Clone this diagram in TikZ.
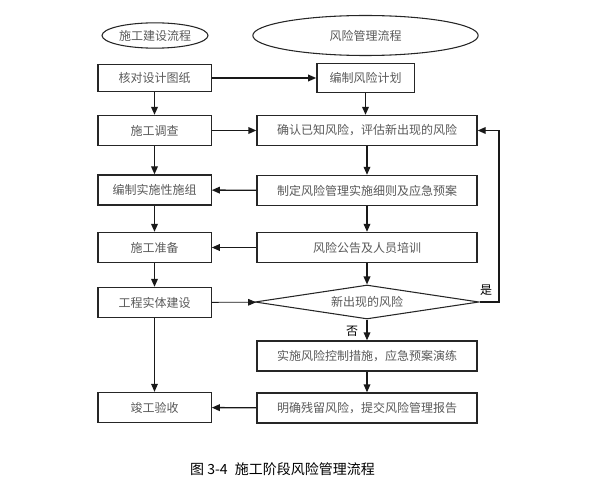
\documentclass[tikz,border=0pt]{standalone}
\usepackage{fontspec}
\setmainfont{Noto Sans CJK SC}
\usetikzlibrary{shapes.geometric,arrows.meta}

\tikzset{every node/.style={font=\fontsize{9}{11}\selectfont, text=black!65}}
\tikzset{
  headline/.style={ellipse, draw=black!85, line width=0.8pt, inner sep=0pt},
  procbox/.style={rectangle, draw=black!85, line width=1pt, inner sep=0pt, minimum height=22.5pt},
  leftbox/.style={procbox, minimum width=85pt},
  rightbox/.style={procbox, minimum width=165pt},
  flow/.style={draw=black!90, line width=1pt, -{Triangle[length=6pt,width=5pt]}},
  thinflow/.style={draw=black!90, line width=0.6pt, -{Triangle[length=6pt,width=5pt]}}
}

\begin{document}
\begin{tikzpicture}[x=0.75pt, y=-0.75pt]
	\useasboundingbox (0,0) rectangle (607,481);
	% Draw the headers
	\node[headline, minimum width=79.5pt, minimum height=19pt] (H1) at (155,35.5) {施工建设流程};
	\node[headline, minimum width=169pt, minimum height=30pt] (H2) at (365.5,35.5) {风险管理流程};
	
	% Draw the construction column
	\node[leftbox, minimum height=20.5pt] (A1) at (154.5,78) {核对设计图纸};
	\node[leftbox] (A2) at (154.5,130.5) {施工调查};
	\node[leftbox] (A3) at (154.5,190) {编制实施性施组};
	\node[leftbox] (A4) at (154.5,247.5) {施工准备};
	\node[leftbox] (A5) at (154.5,302.5) {工程实体建设};
	\node[leftbox] (A6) at (154.5,407.5) {竣工验收};
	
	% Draw the risk column
	\node[procbox, minimum width=73pt, minimum height=21.5pt] (B1) at (365.5,78) {编制风险计划};
	\node[rightbox] (B2) at (367,130.5) {确认已知风险，评估新出现的风险};
	\node[rightbox] (B3) at (367,190.5) {制定风险管理实施细则及应急预案};
	\node[rightbox] (B4) at (367,247.5) {风险公告及人员培训};
	\node[diamond, draw=black!85, line width=0.8pt, inner sep=0pt, aspect=6.6,
	      minimum width=168pt, minimum height=25.5pt] (D) at (367,302) {新出现的风险};
	\node[rightbox] (B5) at (367,356) {实施风险控制措施，应急预案演练};
	\node[rightbox] (B6) at (367,408) {明确残留风险，提交风险管理报告};
	\coordinate (fb) at (499,302);
	
	% Draw the vertical flows
	\draw[flow] (A1) -- (A2);
	\draw[flow] (A2) -- (A3);
	\draw[flow] (A3) -- (A4);
	\draw[flow] (A4) -- (A5);
	\draw[thinflow] (A5) -- (A6);
	
	\draw[flow] (B1) -- (B1 |- B2.north);
	\draw[flow] (B2) -- (B3);
	\draw[flow] (B3) -- (B4);
	\draw[flow] (B4) -- (D);
	\draw[flow] (D) -- (B5);
	\draw[flow] (B5) -- (B6);
	
	% Draw the cross flows
	\draw[flow] (A1) -- (B1);
	\draw[flow] (A2) -- (B2);
	\draw[flow] (B3) -- (A3);
	\draw[flow] (B4) -- (A4);
	\draw[thinflow] (A5) -- (D);
	\draw[flow] (B6) -- (A6);
	\draw[flow] (D.east) -- (fb) |- (B2.east);
	
	\node[text=black] (yes) at (486,290) {是};
	\node[text=black] (no) at (352,331) {否};
	
	\node[text=black, font=\fontsize{10.5}{12}\selectfont] (cap) at (282.5,469) {图 3-4\enspace 施工阶段风险管理流程};
\end{tikzpicture}
\end{document}
